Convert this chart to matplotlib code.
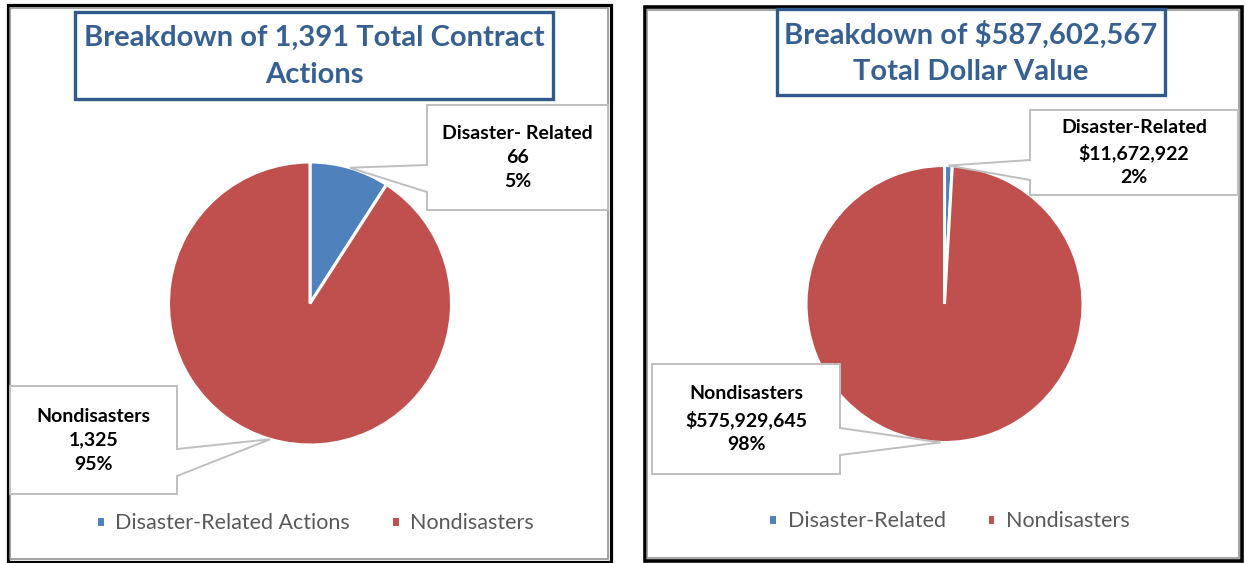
import numpy as np
import matplotlib.pyplot as plt
from matplotlib.patches import Polygon, Rectangle

plt.rcParams['font.family'] = ['Lato', 'DejaVu Sans']

W, H = 1246, 563

# data
categories_actions = ['Disaster-Related Actions', 'Nondisasters']
categories_dollars = ['Disaster-Related', 'Nondisasters']
# slice sizes as they are drawn in the picture (percent of the circle)
actions_share = [9.1, 90.9]
dollars_share = [0.9, 99.1]
# callout texts
actions_labels = ['Disaster- Related\n66\n5%', 'Nondisasters\n1,325\n95%']
dollars_labels = ['Disaster-Related\n$11,672,922\n2%', 'Nondisasters\n$575,929,645\n98%']
titles = ['Breakdown of 1,391 Total Contract\nActions',
          'Breakdown of $587,602,567\nTotal Dollar Value']

BLUE = '#4F81BD'
RED = '#C0504D'
TITLE_C = '#376092'
BORDER_C = '#2E5A8C'
CALL_C = '#BFBFBF'

fig = plt.figure(figsize=(W/100, H/100), dpi=100)
fig.patch.set_facecolor('white')

over = fig.add_axes([0, 0, 1, 1], zorder=5)
over.set_xlim(0, W)
over.set_ylim(H, 0)
over.axis('off')
over.patch.set_alpha(0)


def panel(x0, y0, x1, y1, lw_out=2.3):
    over.add_patch(Rectangle((x0, y0), x1-x0, y1-y0, fill=False, ec='black', lw=lw_out))
    over.add_patch(Rectangle((x0+2.8, y0+2.8), x1-x0-5.6, y1-y0-5.6, fill=False,
                             ec='#8C8C8C', lw=1.1))


def pie_at(cx, cy, r, share):
    ax = fig.add_axes([(cx-r)/W, 1-(cy+r)/H, 2*r/W, 2*r/H])
    wedges, _ = ax.pie(share, colors=[BLUE, RED], startangle=90, counterclock=False,
                       radius=1, wedgeprops=dict(edgecolor='white', linewidth=2.2))
    ax.set_xlim(-1, 1)
    ax.set_ylim(-1, 1)
    tips = []
    for w in wedges:
        a = np.deg2rad((w.theta1 + w.theta2) / 2)
        tips.append((cx + r*np.cos(a), cy - r*np.sin(a)))
    return ax, wedges, tips


def callout(box, tip, base, side, text):
    x0, y0, x1, y1 = box
    b1, b2 = base
    if side == 'left':
        pts = [(x0, y0), (x1, y0), (x1, y1), (x0, y1), (x0, b2), tip, (x0, b1)]
    else:
        pts = [(x0, y0), (x1, y0), (x1, b1), tip, (x1, b2), (x1, y1), (x0, y1)]
    over.add_patch(Polygon(pts, closed=True, fc='white', ec=CALL_C, lw=1.4))
    over.text((x0+x1)/2, (y0+y1)/2, text, ha='center', va='center', fontsize=14,
              fontweight='bold', color='black', linespacing=1.5)


def title_box(box, text):
    x0, y0, x1, y1 = box
    over.add_patch(Rectangle((x0, y0), x1-x0, y1-y0, fc='white', ec=BORDER_C, lw=2.4))
    over.text((x0+x1)/2, (y0+y1)/2 + 1, text, ha='center', va='center', fontsize=21,
              fontweight='bold', color=TITLE_C, linespacing=1.5)


def legend(ax, wedges, labels, cx, cy):
    ax.legend(wedges, labels, loc='center', bbox_to_anchor=(cx/W, 1-cy/H),
              bbox_transform=fig.transFigure, ncol=2, frameon=False, fontsize=15.5,
              handlelength=0.4, handleheight=0.4, handletextpad=0.5, columnspacing=1.9,
              labelcolor='#595959')


# panels
panel(7.5, 5, 610.5, 561.5)
panel(644.5, 7, 1242, 561, lw_out=2.6)

# left chart
axl, wl, tl = pie_at(310, 303.5, 141.5, actions_share)
title_box((75, 12, 553, 99), titles[0])
callout((427, 105, 608, 210), tl[0], (165, 192), 'left', actions_labels[0])
callout((10, 386, 177, 494), tl[1], (449, 476), 'right', actions_labels[1])
legend(axl, wl, categories_actions, 315, 523)

# right chart
axr, wr, tr = pie_at(944.5, 304, 138.5, dollars_share)
title_box((777, 9, 1165, 95), titles[1])
callout((1030, 110, 1238, 195), tr[0], (160, 180), 'left', dollars_labels[0])
callout((652, 364, 840, 474), tr[1], (428, 455), 'right', dollars_labels[1])
legend(axr, wr, categories_dollars, 949, 521)

fig.savefig('out.png', dpi=100)
